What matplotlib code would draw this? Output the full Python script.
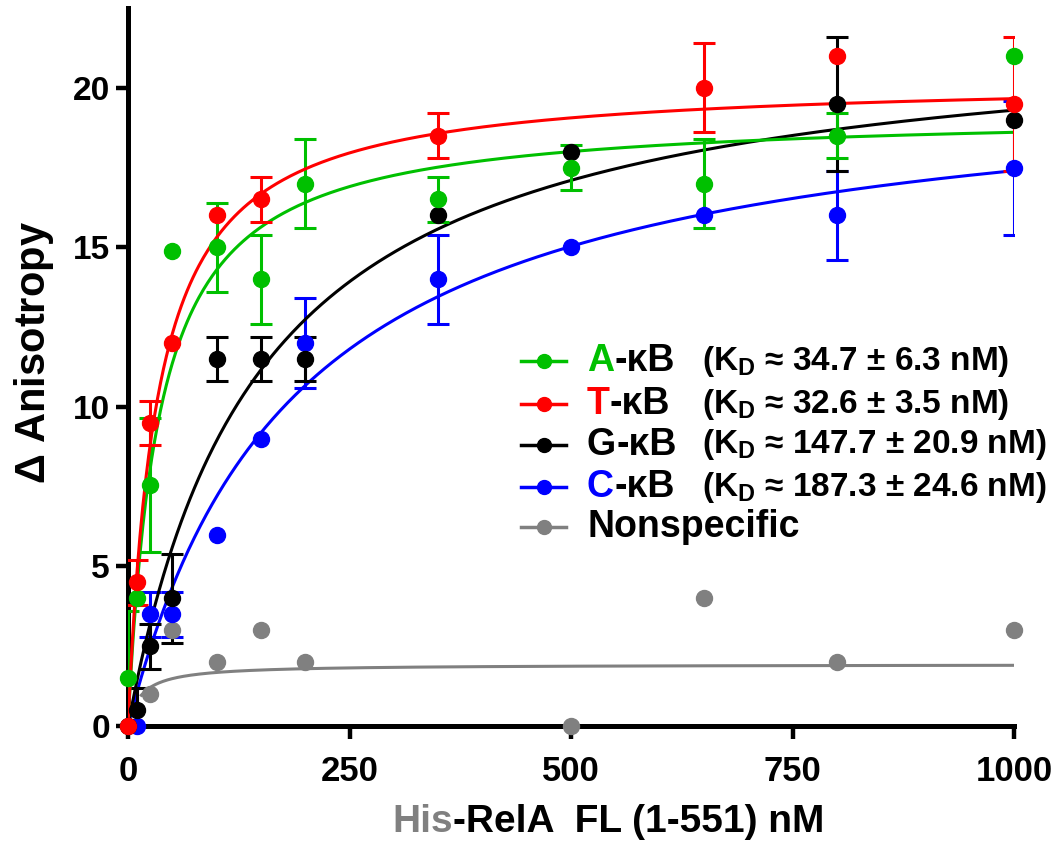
import numpy as np
import matplotlib
matplotlib.use("Agg")
import matplotlib.pyplot as plt

plt.rcParams['font.family'] = ['Liberation Sans', 'DejaVu Sans']
plt.rcParams['font.weight'] = 'bold'
plt.rcParams['mathtext.fontset'] = 'custom'
plt.rcParams['mathtext.rm'] = 'Liberation Sans:bold'
plt.rcParams['mathtext.sf'] = 'Liberation Sans'

# ---- data ----
conc = [0, 10, 25, 50, 100, 150, 200, 350, 500, 650, 800, 1000]

a_y = [1.5, 4.0, 7.55, 14.9, 15.0, 14.0, 17.0, 16.5, 17.5, 17.0, 18.5, 21.0]
a_err = [2.1, 0.0, 2.1, 0.0, 1.4, 1.4, 1.4, 0.7, 0.7, 1.4, 0.7, 0.0]

t_y = [0.0, 4.5, 9.5, 12.0, 16.0, 16.5, np.nan, 18.5, np.nan, 20.0, 21.0, 19.5]
t_err = [0.0, 0.7, 0.7, 0.0, 0.0, 0.7, 0.0, 0.7, 0.0, 1.4, 0.0, 2.1]

g_y = [0.0, 0.5, 2.5, 4.0, 11.5, 11.5, 11.5, 16.0, 18.0, np.nan, 19.5, 19.0]
g_err = [0.0, 0.7, 0.7, 1.4, 0.7, 0.7, 0.7, 0.0, 0.0, 0.0, 2.1, 0.0]

c_y = [np.nan, 0.0, 3.5, 3.5, 6.0, 9.0, 12.0, 14.0, 15.0, 16.0, 16.0, 17.5]
c_err = [0.0, 0.0, 0.7, 0.7, 0.0, 0.0, 1.4, 1.4, 0.0, 0.0, 1.4, 2.1]

ns_x = [25, 50, 100, 150, 200, 500, 650, 800, 1000]
ns_y = [1.0, 3.0, 2.0, 3.0, 2.0, 0.0, 4.0, 2.0, 3.0]

# one-site fit parameters (Kd from legend, Bmax from curve plateau)
kd = {'A': 34.7, 'T': 32.6, 'G': 147.7, 'C': 187.3, 'N': 15.0}
bmax = {'A': 19.25, 'T': 20.3, 'G': 22.15, 'C': 20.66, 'N': 1.93}

green = '#00C000'
red = '#FF0000'
black = '#000000'
blue = '#0000FF'
gray = '#808080'

fig = plt.figure(figsize=(10.6, 8.47), dpi=100)
ax = fig.add_axes([128/1060, 121/847, 886/1060, 718/847])

xx = np.linspace(0, 1000, 600)
xx_ns = np.linspace(15, 1000, 600)

series = [
    ('N', ns_x, ns_y, None, gray),
    ('C', conc, c_y, c_err, blue),
    ('G', conc, g_y, g_err, black),
    ('A', conc, a_y, a_err, green),
    ('T', conc, t_y, t_err, red),
]

for key, xs, ys, err, col in series:
    xf = xx_ns if key == 'N' else xx
    ax.plot(xf, bmax[key] * xf / (kd[key] + xf), color=col, lw=2.2, zorder=3)
    if err is not None:
        e = np.array(err)
        m = e > 0
        ax.errorbar(np.array(xs)[m], np.array(ys)[m], yerr=e[m], fmt='none',
                    ecolor=col, elinewidth=2.2, capsize=8, capthick=2.2, zorder=3)
    ax.plot(xs, ys, 'o', color=col, ms=11.5, clip_on=False, zorder=4)

ax.set_xlim(0, 1000)
ax.set_ylim(0, 22.5)
ax.set_xticks([0, 250, 500, 750, 1000])
ax.set_yticks([0, 5, 10, 15, 20])

for s in ['top', 'right']:
    ax.spines[s].set_visible(False)
for s in ['left', 'bottom']:
    ax.spines[s].set_linewidth(3.6)
ax.tick_params(axis='both', width=3.2, length=9, direction='out')
ax.tick_params(axis='y', labelsize=24, pad=4)
ax.tick_params(axis='x', labelsize=25, pad=12)
for lab in ax.get_xticklabels() + ax.get_yticklabels():
    lab.set_weight('bold')

ax.set_ylabel('$\\mathsf{Δ}$ Anisotropy', fontsize=30, fontweight='bold')
ax.yaxis.set_label_coords(-0.081, 0.52)

# x label with gray "His"
xl1 = fig.text(392/1060, 1 - 832/847, 'His', color=gray, fontsize=28,
               fontweight='bold', va='baseline')
ax.annotate('-RelA  FL (1-551) nM', xy=(1, 0), xycoords=xl1, va='bottom', ha='left',
            fontsize=28, fontweight='bold', color=black)

# legend drawn by hand
leg_rows = [
    ('A', green, '(K$_\\mathrm{D}$ ≈ 34.7 ± 6.3 nM)'),
    ('T', red, '(K$_\\mathrm{D}$ ≈ 32.6 ± 3.5 nM)'),
    ('G', black, '(K$_\\mathrm{D}$ ≈ 147.7 ± 20.9 nM)'),
    ('C', blue, '(K$_\\mathrm{D}$ ≈ 187.3 ± 24.6 nM)'),
]
row_y = [361, 404, 445, 487, 527]
for i, (letter, col, kdtxt) in enumerate(leg_rows):
    yf = 1 - row_y[i] / 847
    fig.add_artist(plt.Line2D([521/1060, 566/1060], [yf, yf], color=col, lw=2.5))
    fig.add_artist(plt.Line2D([544/1060], [yf], marker='o', color=col, ms=10))
    t1 = fig.text(587/1060, yf, letter, color=col, fontsize=27, fontweight='bold', va='center')
    ax.annotate('-κB', xy=(1, 0.5), xycoords=t1, va='center', ha='left',
                fontsize=27, fontweight='bold')
    fig.text(702/1060, yf, kdtxt, fontsize=24, fontweight='bold', va='center')

yf = 1 - row_y[4] / 847
fig.add_artist(plt.Line2D([521/1060, 566/1060], [yf, yf], color=gray, lw=2.5))
fig.add_artist(plt.Line2D([544/1060], [yf], marker='o', color=gray, ms=10))
fig.text(587/1060, yf, 'Nonspecific', fontsize=27, fontweight='bold', va='center')

fig.savefig('out.png', dpi=100)
